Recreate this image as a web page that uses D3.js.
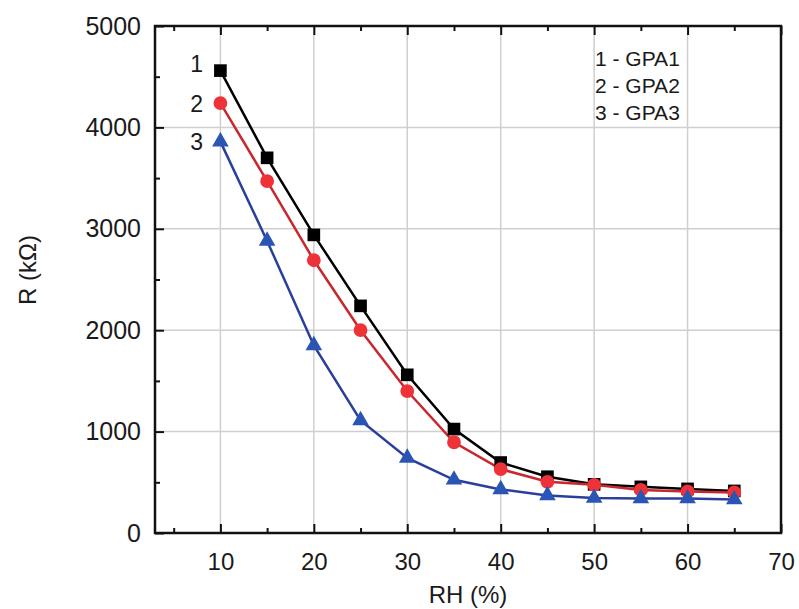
<!DOCTYPE html>
<html>
<head>
<meta charset="utf-8">
<script src="https://cdn.jsdelivr.net/npm/d3@7"></script>
<style>
  html, body { margin: 0; padding: 0; background: #fff; }
  svg { display: block; font-family: "Liberation Sans", Arial, sans-serif; }
</style>
</head>
<body>
<div id="chart"></div>
<script>
// RH values (%) shared by all three samples
const rh = [10, 15, 20, 25, 30, 35, 40, 45, 50, 55, 60, 65];

// resistance in kOhm
const gpa1 = [4560, 3700, 2940, 2240, 1560, 1025, 695, 555, 480, 455, 435, 415];
const gpa2 = [4240, 3470, 2690, 2000, 1400, 895, 630, 505, 475, 425, 410, 400];
const gpa3 = [3860, 2880, 1850, 1110, 740, 525, 430, 370, 345, 340, 340, 330];

const xTicks = [10, 20, 30, 40, 50, 60, 70];
const xMinor = [5, 15, 25, 35, 45, 55, 65];
const yTicks = [0, 1000, 2000, 3000, 4000, 5000];
const yMinor = [500, 1500, 2500, 3500, 4500];
const legendLines = ['1 - GPA1', '2 - GPA2', '3 - GPA3'];

const width = 799;
const height = 609;
const plotLeft = 155, plotRight = 781, plotTop = 26, plotBottom = 533;

const svg = d3.select('#chart')
  .append('svg')
  .attr('width', width)
  .attr('height', height);

const x = d3.scaleLinear().domain([3, 70]).range([plotLeft, plotRight]);
const y = d3.scaleLinear().domain([0, 5000]).range([plotBottom, plotTop]);

// grid
svg.append('g')
  .selectAll('line')
  .data(xTicks.filter(d => d < 70))
  .enter()
  .append('line')
  .attr('x1', d => x(d)).attr('x2', d => x(d))
  .attr('y1', plotTop).attr('y2', plotBottom)
  .attr('stroke', '#cfcfcf')
  .attr('stroke-width', 1.5);

svg.append('g')
  .selectAll('line')
  .data(yTicks.filter(d => d > 0 && d < 5000))
  .enter()
  .append('line')
  .attr('x1', plotLeft).attr('x2', plotRight)
  .attr('y1', d => y(d)).attr('y2', d => y(d))
  .attr('stroke', '#cfcfcf')
  .attr('stroke-width', 1.5);

// axes (ticks point inward)
const xAxis = svg.append('g')
  .attr('transform', `translate(0,${plotBottom})`)
  .call(d3.axisBottom(x).tickValues(xTicks).tickSize(-9).tickPadding(20).tickFormat(d3.format('d')));

const xAxisMinor = svg.append('g')
  .attr('transform', `translate(0,${plotBottom})`)
  .call(d3.axisBottom(x).tickValues(xMinor).tickSize(-5).tickFormat(''));

const xTop = svg.append('g')
  .attr('transform', `translate(0,${plotTop})`)
  .call(d3.axisTop(x).tickValues(xTicks).tickSize(-9).tickFormat(''));

const xTopMinor = svg.append('g')
  .attr('transform', `translate(0,${plotTop})`)
  .call(d3.axisTop(x).tickValues(xMinor).tickSize(-5).tickFormat(''));

const yAxis = svg.append('g')
  .attr('transform', `translate(${plotLeft},0)`)
  .call(d3.axisLeft(y).tickValues(yTicks).tickSize(-9).tickPadding(14).tickFormat(d3.format('d')));

const yAxisMinor = svg.append('g')
  .attr('transform', `translate(${plotLeft},0)`)
  .call(d3.axisLeft(y).tickValues(yMinor).tickSize(-5).tickFormat(''));

[xAxis, xAxisMinor, xTop, xTopMinor, yAxis, yAxisMinor].forEach(g => {
  g.select('.domain').remove();
  g.selectAll('.tick line').attr('stroke', '#111').attr('stroke-width', 2);
});

xAxis.selectAll('.tick text')
  .attr('font-size', '24px')
  .attr('fill', '#1a1a1a')
  .attr('font-family', '"Liberation Sans", Arial, sans-serif');

yAxis.selectAll('.tick text')
  .attr('font-size', '25px')
  .attr('fill', '#1a1a1a')
  .attr('font-family', '"Liberation Sans", Arial, sans-serif');

// frame
svg.append('rect')
  .attr('x', plotLeft)
  .attr('y', plotTop)
  .attr('width', plotRight - plotLeft)
  .attr('height', plotBottom - plotTop)
  .attr('fill', 'none')
  .attr('stroke', '#111')
  .attr('stroke-width', 2.5);

// axis titles
svg.append('text')
  .attr('x', 468)
  .attr('y', 603)
  .attr('text-anchor', 'middle')
  .attr('font-size', '24px')
  .attr('fill', '#1a1a1a')
  .text('RH (%)');

svg.append('text')
  .attr('transform', 'translate(36,270) rotate(-90)')
  .attr('text-anchor', 'middle')
  .attr('font-size', '24px')
  .attr('fill', '#1a1a1a')
  .text('R (kΩ)');

// series
const series = [
  { values: gpa1, line: '#000000', fill: '#000000', shape: d3.symbolSquare, size: 160 },
  { values: gpa2, line: '#c8282d', fill: '#ee3338', shape: d3.symbolCircle, size: 150 },
  { values: gpa3, line: '#2a3f9c', fill: '#2b55b5', shape: d3.symbolTriangle, size: 120 }
];

const line = d3.line()
  .x(d => x(d[0]))
  .y(d => y(d[1]));

series.forEach(s => {
  const pts = rh.map((r, i) => [r, s.values[i]]);
  svg.append('path')
    .datum(pts)
    .attr('d', line)
    .attr('fill', 'none')
    .attr('stroke', s.line)
    .attr('stroke-width', 2.5);
});

series.forEach(s => {
  const pts = rh.map((r, i) => [r, s.values[i]]);
  svg.append('g')
    .selectAll('path')
    .data(pts)
    .enter()
    .append('path')
    .attr('transform', d => `translate(${x(d[0])},${y(d[1])})`)
    .attr('d', d3.symbol().type(s.shape).size(s.size))
    .attr('fill', s.fill);
});

// curve numbers
svg.append('g')
  .selectAll('text')
  .data(['1', '2', '3'])
  .enter()
  .append('text')
  .attr('x', 203)
  .attr('y', (d, i) => [72, 112, 150][i])
  .attr('text-anchor', 'end')
  .attr('font-size', '23px')
  .attr('fill', '#1a1a1a')
  .text(d => d);

// legend text
svg.append('g')
  .selectAll('text')
  .data(legendLines)
  .enter()
  .append('text')
  .attr('x', 595)
  .attr('y', (d, i) => 66 + i * 27)
  .attr('font-size', '21px')
  .attr('fill', '#1a1a1a')
  .text(d => d);
</script>
</body>
</html>
